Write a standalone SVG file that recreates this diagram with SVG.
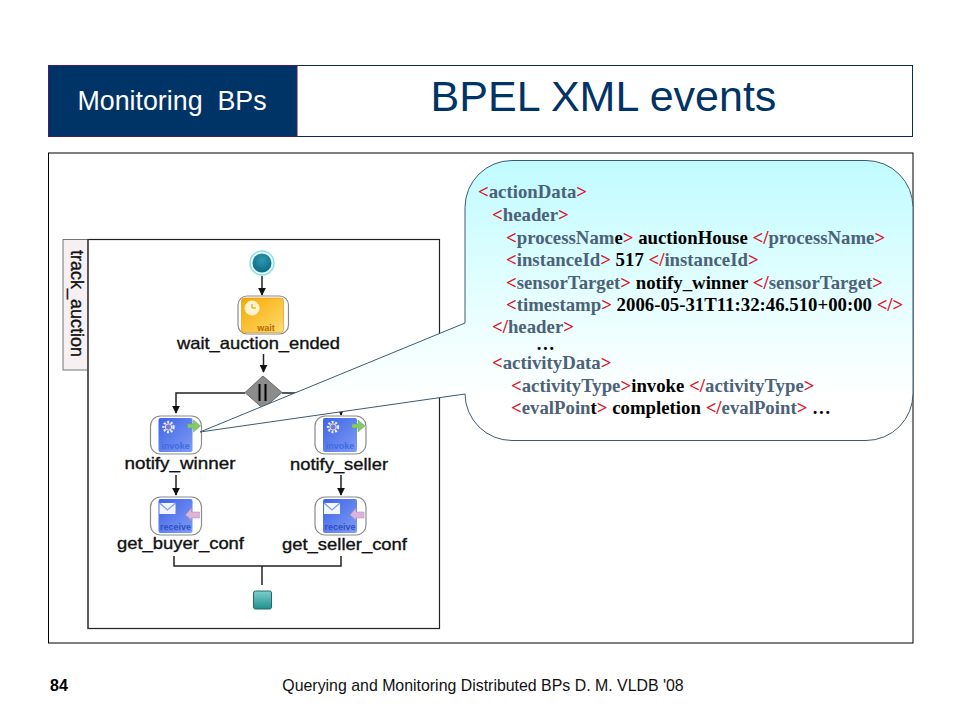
<svg xmlns="http://www.w3.org/2000/svg" width="960" height="720" viewBox="0 0 960 720">
<style>
.sans{font-family:"Liberation Sans",Arial,sans-serif}
.lbl{font-family:"Liberation Sans",Arial,sans-serif;font-size:16.5px;fill:#111;stroke:#111;stroke-width:.35;text-anchor:middle}
.x{font-family:"Liberation Serif","Times New Roman",serif;font-size:18.8px;font-weight:bold;fill:#000}
.r{fill:#e0101f}.s{fill:#4c6278}
.shell{fill:#fff;stroke:#8a8a8a;stroke-width:1.2}
.conn{fill:none;stroke:#222;stroke-width:1.5}
.tag{font-family:"Liberation Sans",Arial,sans-serif;font-size:9px;font-weight:bold;text-anchor:middle}
</style>
<defs>
<marker id="ah" viewBox="0 0 10 10" refX="9" refY="5" markerWidth="8" markerHeight="8" orient="auto" markerUnits="userSpaceOnUse"><path d="M0,0L10,5L0,10Z" fill="#111"/></marker>
<linearGradient id="callout" x1="0" y1="0" x2="0" y2="1"><stop offset="0" stop-color="#c0fbff"/><stop offset=".5" stop-color="#e6feff"/><stop offset=".85" stop-color="#fff"/></linearGradient>
<linearGradient id="blue" x1="0" y1="0" x2="1" y2="1"><stop offset="0" stop-color="#3f63e6"/><stop offset="1" stop-color="#7f9cf5"/></linearGradient>
<linearGradient id="orange" x1="0" y1="0" x2="1" y2="1"><stop offset="0" stop-color="#f7a800"/><stop offset="1" stop-color="#ffdc70"/></linearGradient>
<linearGradient id="teal" x1="0" y1="0" x2="0" y2="1"><stop offset="0" stop-color="#7fcfc9"/><stop offset="1" stop-color="#1f8f90"/></linearGradient>
<radialGradient id="ball" cx=".5" cy=".35" r=".7"><stop offset="0" stop-color="#2a9ab0"/><stop offset="1" stop-color="#0b6680"/></radialGradient>
<g id="gear"><circle r="5" fill="none" stroke="#e8ecff" stroke-width="2.4" stroke-dasharray="2 1.6"/><circle r="3.2" fill="#7a78d8" stroke="#e8ecff" stroke-width="1"/></g>
<g id="invoke"><rect x="0" y="0" width="51" height="38" rx="10" class="shell"/><rect x="8" y="2" width="34" height="34" rx="2" fill="url(#blue)"/><use href="#gear" x="18" y="11"/><path d="M37,8H43V4L50,10L43,16V12H37Z" fill="#86c96a" stroke="#5fa84a" stroke-width=".5"/><text x="25" y="33" class="tag" fill="#3f6ae0">invoke</text></g>
<g id="receive"><rect x="0" y="0" width="51" height="38" rx="10" class="shell"/><rect x="8" y="2" width="34" height="34" rx="2" fill="url(#blue)"/><rect x="9" y="6" width="16" height="11" fill="#f4f6ff"/><path d="M9,6L17,13L25,6" fill="none" stroke="#7f9cf5" stroke-width="1.2"/><path d="M49,15H41V11L35,18L41,23V21H49Z" fill="#dcb4d8" stroke="#b48ab8" stroke-width=".5"/><text x="25" y="33" class="tag" fill="#2f4fc4">receive</text></g>
</defs>

<g id="header">
<rect x="48.500" y="65.500" width="864" height="71" fill="#fff" stroke="#0a2a5c"/>
<rect id="section" x="48.500" y="65.500" width="248.500" height="71" fill="#003366" stroke="#4a1a70"/>
<text x="172" y="110" class="sans" font-size="26.800" fill="#fff" text-anchor="middle" xml:space="preserve">Monitoring  BPs</text>
<text x="603.500" y="111" class="sans" font-size="43" fill="#003366" text-anchor="middle">BPEL XML events</text>
</g>
<rect id="frame" x="48.500" y="153" width="864.500" height="490" fill="#fff" stroke="#000"/>

<g id="pool">
<rect x="63" y="239.500" width="25" height="130.500" fill="#f6f0f2" stroke="#777"/>
<rect x="88" y="239.500" width="351.500" height="389" fill="#fff" stroke="#222" stroke-width="1.2"/>
<line x1="88" y1="239.500" x2="88" y2="628.500" stroke="#555" stroke-width="1.6"/>
<text transform="translate(71,303.500) rotate(90)" class="lbl" style="font-size:18px">track_auction</text>
</g>

<g id="connectors">
<path class="conn" d="M262,276V295" marker-end="url(#ah)"/>
<path class="conn" d="M263.500,354V372" marker-end="url(#ah)"/>
<path class="conn" d="M245,393H176V413" marker-end="url(#ah)"/>
<path class="conn" d="M282,393H341V415" marker-end="url(#ah)"/>
<path class="conn" d="M176,475V495" marker-end="url(#ah)"/>
<path class="conn" d="M341,475V495" marker-end="url(#ah)"/>
<path class="conn" d="M174,556V566H341V556M262,566V585"/>
</g>

<g id="start"><circle cx="262" cy="263" r="12" fill="#e4fbfb" stroke="#8fdfe6" stroke-width="1.500"/><circle cx="262" cy="263" r="9.500" fill="url(#ball)"/></g>
<g id="wait_auction_ended">
<rect x="238" y="296" width="50.500" height="38" rx="9" class="shell"/>
<rect x="241.500" y="298" width="42" height="34.500" rx="3" fill="url(#orange)" stroke="#e09000" stroke-width=".6"/>
<circle cx="252" cy="308" r="7" fill="#fff3d0" stroke="#fff" stroke-width="1" stroke-dasharray="2 .8"/>
<path d="M252,304V308H256" fill="none" stroke="#e09000" stroke-width="1"/>
<text x="266" y="331" class="tag" fill="#b86a00">wait</text>
<text x="258.500" y="349" class="lbl" textLength="163" lengthAdjust="spacingAndGlyphs">wait_auction_ended</text>
</g>
<g id="fork">
<path d="M263,376L282,392.500L263,408.500L245,392.500Z" fill="#8c8c8c" stroke="#6a6a6a"/>
<path d="M259.500,384V401M265.500,384V401" stroke="#000" stroke-width="2" fill="none"/>
</g>
<g id="notify_winner"><use href="#invoke" x="150.500" y="416"/><text x="180" y="469" class="lbl" textLength="111" lengthAdjust="spacingAndGlyphs">notify_winner</text></g>
<g id="notify_seller"><use href="#invoke" x="315" y="416"/><text x="339" y="470" class="lbl" textLength="98" lengthAdjust="spacingAndGlyphs">notify_seller</text></g>
<g id="get_buyer_conf"><use href="#receive" x="150.500" y="497"/><text x="180.500" y="549" class="lbl" textLength="127" lengthAdjust="spacingAndGlyphs">get_buyer_conf</text></g>
<g id="get_seller_conf"><use href="#receive" x="315" y="497"/><text x="344.500" y="550" class="lbl" textLength="125" lengthAdjust="spacingAndGlyphs">get_seller_conf</text></g>
<g id="end"><rect x="253.500" y="591" width="18" height="18" rx="2" fill="url(#teal)" stroke="#1f6a6a" stroke-width="1"/></g>

<g id="callout-note">
<path d="M512,160.500H866A47,47 0 0 1 913,207.500V393A47,47 0 0 1 866,440.500H512A47,47 0 0 1 465,394L200,432L465,323V207.500A47,47 0 0 1 512,160.500Z" fill="url(#callout)" stroke="#3f5a70" stroke-width="1"/>
<text class="x" y="198"><tspan x="478" class="r">&lt;</tspan><tspan class="s">actionData</tspan><tspan class="r">&gt;</tspan></text>
<text class="x" y="221"><tspan x="492" class="r">&lt;</tspan><tspan class="s">header</tspan><tspan class="r">&gt;</tspan></text>
<text class="x" y="244"><tspan x="506" class="r">&lt;</tspan><tspan class="s">processNam</tspan>e<tspan class="r">&gt;</tspan> auctionHouse <tspan class="r">&lt;/</tspan><tspan class="s">processName</tspan><tspan class="r">&gt;</tspan></text>
<text class="x" y="266"><tspan x="506" class="r">&lt;</tspan><tspan class="s">instanceId</tspan><tspan class="r">&gt;</tspan> 517 <tspan class="r">&lt;/</tspan><tspan class="s">instanceId</tspan><tspan class="r">&gt;</tspan></text>
<text class="x" y="289"><tspan x="506" class="r">&lt;</tspan><tspan class="s">sensorTarget</tspan><tspan class="r">&gt;</tspan> notify_winner <tspan class="r">&lt;/</tspan><tspan class="s">sensorTarget</tspan><tspan class="r">&gt;</tspan></text>
<text class="x" y="311"><tspan x="506" class="r">&lt;</tspan><tspan class="s">timestamp</tspan><tspan class="r">&gt;</tspan> 2006-05-31T11:32:46.510+00:00 <tspan class="r">&lt;/&gt;</tspan></text>
<text class="x" y="333"><tspan x="492" class="r">&lt;/</tspan><tspan class="s">header</tspan><tspan class="r">&gt;</tspan></text>
<text class="x" x="536" y="350">…</text>
<text class="x" y="369"><tspan x="492" class="r">&lt;</tspan><tspan class="s">activityData</tspan><tspan class="r">&gt;</tspan></text>
<text class="x" y="392"><tspan x="511" class="r">&lt;</tspan><tspan class="s">activityType</tspan><tspan class="r">&gt;</tspan>invoke <tspan class="r">&lt;/</tspan><tspan class="s">activityType</tspan><tspan class="r">&gt;</tspan></text>
<text class="x" y="414"><tspan x="511" class="r">&lt;</tspan><tspan class="s">evalPoin</tspan>t<tspan class="r">&gt;</tspan> completion <tspan class="r">&lt;/</tspan><tspan class="s">evalPoint</tspan><tspan class="r">&gt;</tspan> …</text>
</g>

<g id="footer">
<text x="50" y="691" class="sans" font-size="16" font-weight="bold" fill="#000">84</text>
<text x="483" y="691" class="sans" font-size="15.900" fill="#111" text-anchor="middle">Querying and Monitoring Distributed BPs D. M. VLDB '08</text>
</g>
</svg>
